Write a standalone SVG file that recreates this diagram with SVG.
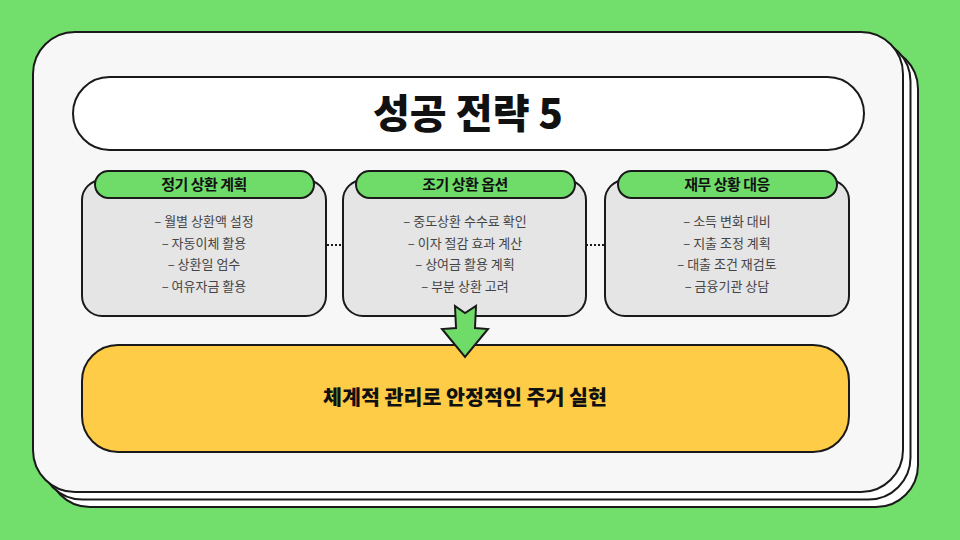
<svg xmlns="http://www.w3.org/2000/svg" width="960" height="540" viewBox="0 0 960 540">
  <defs>
    <style>
      .stk { stroke: #1a1a1a; stroke-width: 2; }
      .body { fill: #e5e5e5; stroke: #1a1a1a; stroke-width: 2; }
      .pill { fill: #6fdc6a; stroke: #1a1a1a; stroke-width: 2; }
      .hdr { font-family: "Noto Sans CJK KR", "Noto Sans", sans-serif; font-size: 15px; font-weight: 700; fill: #111; text-anchor: middle; letter-spacing: -0.5px; }
      .item { font-family: "Noto Sans CJK KR", "Noto Sans", sans-serif; font-size: 13px; fill: #444; text-anchor: middle; }
      .dot { stroke: #1a1a1a; stroke-width: 2; stroke-dasharray: 2 2; fill: none; }
    </style>
  </defs>
  <rect x="0" y="0" width="960" height="540" fill="#72de6b"/>

  <g id="paper">
    <rect x="48" y="47" width="870" height="460" rx="42" fill="#ffffff" class="stk"/>
    <rect x="40.5" y="39.5" width="870" height="460" rx="42" fill="#ffffff" class="stk"/>
    <rect x="33" y="32" width="870" height="460" rx="42" fill="#f7f7f7" class="stk"/>
  </g>

  <g id="title">
    <rect x="73" y="77" width="791" height="73" rx="36.5" fill="#ffffff" class="stk"/>
    <text x="468" y="128" font-family="'Noto Sans CJK KR', 'Noto Sans', sans-serif" font-size="40" font-weight="900" fill="#111" text-anchor="middle" textLength="190" lengthAdjust="spacingAndGlyphs">성공 전략 5</text>
  </g>

  <g id="card1">
    <rect x="82" y="180" width="244" height="136" rx="20" class="body"/>
    <rect x="95" y="171" width="219" height="27" rx="13.5" class="pill"/>
    <text x="204" y="190" class="hdr">정기 상환 계획</text>
    <text x="204" y="226" class="item">– 월별 상환액 설정</text>
    <text x="204" y="248" class="item">– 자동이체 활용</text>
    <text x="204" y="269" class="item">– 상환일 엄수</text>
    <text x="204" y="291" class="item">– 여유자금 활용</text>
  </g>

  <g id="card2">
    <rect x="343" y="180" width="243" height="136" rx="20" class="body"/>
    <rect x="356" y="171" width="219" height="27" rx="13.5" class="pill"/>
    <text x="465" y="190" class="hdr">조기 상환 옵션</text>
    <text x="465" y="226" class="item">– 중도상환 수수료 확인</text>
    <text x="465" y="248" class="item">– 이자 절감 효과 계산</text>
    <text x="465" y="269" class="item">– 상여금 활용 계획</text>
    <text x="465" y="291" class="item">– 부분 상환 고려</text>
  </g>

  <g id="card3">
    <rect x="605" y="180" width="244" height="136" rx="20" class="body"/>
    <rect x="618" y="171" width="219" height="27" rx="13.5" class="pill"/>
    <text x="727" y="190" class="hdr">재무 상황 대응</text>
    <text x="727" y="226" class="item">– 소득 변화 대비</text>
    <text x="727" y="248" class="item">– 지출 조정 계획</text>
    <text x="727" y="269" class="item">– 대출 조건 재검토</text>
    <text x="727" y="291" class="item">– 금융기관 상담</text>
  </g>

  <g id="result">
    <rect x="82" y="345" width="767" height="107" rx="36" fill="#ffcc47" class="stk"/>
    <text x="465" y="405" font-family="'Noto Sans CJK KR', 'Noto Sans', sans-serif" font-size="20" font-weight="900" fill="#111" text-anchor="middle" textLength="284" lengthAdjust="spacingAndGlyphs">체계적 관리로 안정적인 주거 실현</text>
  </g>

  <g id="connectors">
    <line x1="327" y1="245" x2="343" y2="245" class="dot"/>
    <line x1="586" y1="245" x2="605" y2="245" class="dot"/>
    <polygon points="455,306 465,313 476,306 475,328 488,329 465,357 442,329 456,328" fill="#6fdc6a" class="stk" stroke-linejoin="miter"/>
  </g>
</svg>
